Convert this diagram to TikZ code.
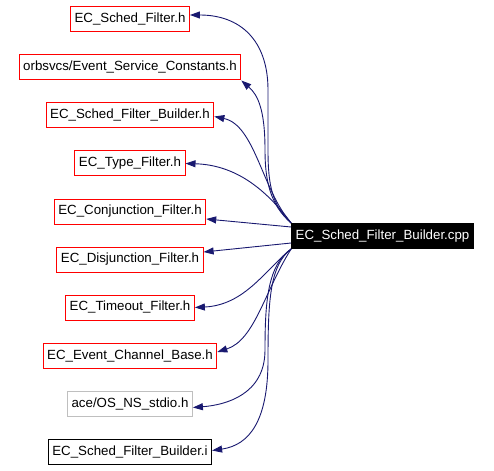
\documentclass[tikz,border=0pt]{standalone}
\usepackage{fontspec}
\setmainfont{Liberation Sans}
\usetikzlibrary{arrows.meta}
\definecolor{edgeblue}{RGB}{25,25,112}
\definecolor{lightgrey}{RGB}{191,191,191}

\begin{document}
\begin{tikzpicture}[x=1pt, y=-1pt,
  every node/.style={rectangle, draw, line width=1pt, minimum height=25pt, inner xsep=4pt, inner ysep=0pt, font=\fontsize{13.3}{16}\selectfont},
  hdr/.style={draw=red},
  sys/.style={draw=lightgrey},
  inl/.style={draw=black},
  src/.style={fill=black, text=white},
  edge/.style={draw=edgeblue, line width=0.9pt, -{Triangle[length=10pt, width=7pt]}}]
  \useasboundingbox (0,0) rectangle (494,470);
  \node[src] (main) at (382.5,236) {EC\_Sched\_Filter\_Builder.cpp};
  \node[hdr] (sf) at (130,19.5) {EC\_Sched\_Filter.h};
  \node[hdr] (esc) at (130,67.5) {orbsvcs/Event\_Service\_Constants.h};
  \node[hdr] (sfb) at (130,115.5) {EC\_Sched\_Filter\_Builder.h};
  \node[hdr] (tf) at (130,163.5) {EC\_Type\_Filter.h};
  \node[hdr] (cf) at (130,211.5) {EC\_Conjunction\_Filter.h};
  \node[hdr] (df) at (130,259.5) {EC\_Disjunction\_Filter.h};
  \node[hdr] (tof) at (130,307.5) {EC\_Timeout\_Filter.h};
  \node[hdr] (ecb) at (130,355.5) {EC\_Event\_Channel\_Base.h};
  \node[sys] (stdio) at (130,403.5) {ace/OS\_NS\_stdio.h};
  \node[inl] (sfbi) at (130,451.5) {EC\_Sched\_Filter\_Builder.i};
  \draw[edge] (main.north west) .. controls (272,205) and (268,185) .. (268,150) -- (268,90) .. controls (268,40) and (240,15) .. ([yshift=4.5pt]sf.east);
  \draw[edge] (main.north west) .. controls (270,205) and (265,180) .. (265,150) .. controls (265,110) and (258,95) .. (esc.south east);
  \draw[edge] (main.north west) .. controls (262,190) and (255,125) .. ([yshift=-1pt]sfb.east);
  \draw[edge] (main.north west) .. controls (270,195) and (240,165) .. (tf.east);
  \draw[edge] ([yshift=9pt]main.west) -- ([yshift=-7.5pt]cf.east);
  \draw[edge] ([yshift=-7pt]main.west) -- ([yshift=7.5pt]df.east);
  \draw[edge] (main.south west) .. controls (265,270) and (245,305) .. (tof.east);
  \draw[edge] (main.south west) .. controls (265,290) and (255,340) .. ([yshift=3.5pt]ecb.east);
  \draw[edge] (main.south west) .. controls (268,265) and (265,300) .. (265,350) .. controls (265,395) and (225,405) .. ([yshift=-4pt]stdio.east);
  \draw[edge] (main.south west) .. controls (270,265) and (268,300) .. (268,360) .. controls (268,420) and (250,445) .. ([yshift=1pt]sfbi.east);
\end{tikzpicture}
\end{document}
